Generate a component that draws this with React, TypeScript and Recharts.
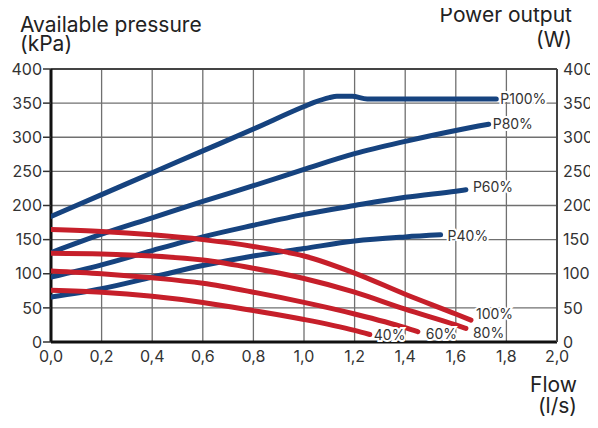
import React from 'react';
import { ComposedChart, Line, XAxis, YAxis, CartesianGrid, ReferenceLine } from 'recharts';

const xTicks = [0, 0.2, 0.4, 0.6, 0.8, 1.0, 1.2, 1.4, 1.6, 1.8, 2.0];
const yTicks = [0, 50, 100, 150, 200, 250, 300, 350, 400];

// Power output (W) curves
const p100Flow = [0, 0.2, 0.4, 0.6, 0.8, 1.0, 1.04, 1.1, 1.13, 1.19, 1.25, 1.76];
const p100Power = [184, 216, 248, 280, 312, 345, 351, 358, 360, 360, 356, 356];
const p80Flow = [0, 0.2, 0.4, 0.6, 0.8, 1.0, 1.2, 1.4, 1.6, 1.73];
const p80Power = [131, 158, 182, 206, 229, 253, 276, 294, 310, 319];
const p60Flow = [0, 0.2, 0.4, 0.6, 0.8, 1.0, 1.2, 1.4, 1.6, 1.64];
const p60Power = [95, 113, 134, 154, 171, 187, 200, 212, 221, 223];
const p40Flow = [0, 0.2, 0.4, 0.6, 0.8, 1.0, 1.2, 1.4, 1.54];
const p40Power = [66, 78, 95, 112, 126, 137, 148, 154, 157];

// Available pressure (kPa) curves
const s100Flow = [0, 0.2, 0.4, 0.6, 0.8, 1.0, 1.2, 1.4, 1.6, 1.66];
const s100Pressure = [165, 162, 157, 150, 140, 126, 101, 70, 41, 32];
const s80Flow = [0, 0.2, 0.4, 0.6, 0.8, 1.0, 1.2, 1.4, 1.6, 1.64];
const s80Pressure = [130, 129, 126, 120, 108, 93, 73, 48, 25, 20];
const s60Flow = [0, 0.2, 0.4, 0.6, 0.8, 1.0, 1.2, 1.4, 1.45];
const s60Pressure = [104, 100, 94, 86, 73, 58, 41, 21, 15];
const s40Flow = [0, 0.2, 0.4, 0.6, 0.8, 1.0, 1.2, 1.26];
const s40Pressure = [76, 73, 67, 58, 46, 33, 17, 11];

const BLUE = '#16437f';
const RED = '#c61f2a';
const FONT = 'Inter, "Noto Sans", sans-serif';

const toPoints = (xs: number[], ys: number[]) => xs.map((x, i) => ({ flow: x, value: ys[i] }));

const makeLabel = (text: string, n: number, dx: number, dy: number) => (props: any) => {
  if (props.index !== n - 1) return <g />;
  return (
    <text
      x={props.x + dx}
      y={props.y + dy}
      dominantBaseline="central"
      textAnchor="start"
      fontSize={14}
      fontFamily={FONT}
      fill="#333"
      stroke="#fff"
      strokeWidth={4}
      paintOrder="stroke"
    >
      {text}
    </text>
  );
};

const fmt = (v: number) => v.toFixed(1).replace('.', ',');

const series = [
  { xs: p100Flow, ys: p100Power, color: BLUE, axis: 'right', label: 'P100%', dx: 4, dy: -1 },
  { xs: p80Flow, ys: p80Power, color: BLUE, axis: 'right', label: 'P80%', dx: 4, dy: -1 },
  { xs: p60Flow, ys: p60Power, color: BLUE, axis: 'right', label: 'P60%', dx: 7, dy: -3 },
  { xs: p40Flow, ys: p40Power, color: BLUE, axis: 'right', label: 'P40%', dx: 7, dy: 1 },
  { xs: s100Flow, ys: s100Pressure, color: RED, axis: 'left', label: '100%', dx: 5, dy: -7 },
  { xs: s80Flow, ys: s80Pressure, color: RED, axis: 'left', label: '80%', dx: 7, dy: 4 },
  { xs: s60Flow, ys: s60Pressure, color: RED, axis: 'left', label: '60%', dx: 8, dy: 2 },
  { xs: s40Flow, ys: s40Pressure, color: RED, axis: 'left', label: '40%', dx: 4, dy: 0 },
];

export default function App() {
  const tickStyle = { fontSize: 16, fontFamily: FONT, fill: '#333' };
  return (
    <div style={{ position: 'relative', width: 590, height: 420 }}>
      <ComposedChart
        width={590}
        height={420}
        margin={{ top: 61, right: 0, bottom: 56, left: 0 }}
      >
        <CartesianGrid stroke="#707070" strokeWidth={1.3} horizontalValues={yTicks} verticalValues={xTicks} yAxisId="left" />
        <XAxis
          type="number"
          dataKey="flow"
          domain={[0, 2]}
          ticks={xTicks}
          tickFormatter={fmt}
          height={30}
          tickSize={0}
          tickMargin={9}
          tick={tickStyle}
          axisLine={false}
          allowDataOverflow
        />
        <YAxis
          yAxisId="left"
          type="number"
          domain={[0, 400]}
          ticks={yTicks}
          width={43}
          tickSize={8}
          tickMargin={1}
          tickLine={{ stroke: '#333', strokeWidth: 1.5 }}
          tick={tickStyle}
          axisLine={false}
        />
        <YAxis
          yAxisId="right"
          orientation="right"
          type="number"
          domain={[0, 400]}
          ticks={yTicks}
          width={41}
          tickSize={0}
          tickMargin={6}
          tick={{ ...tickStyle, textAnchor: 'start' }}
          axisLine={{ stroke: '#444', strokeWidth: 2 }}
        />
        <ReferenceLine yAxisId="left" y={400} stroke="#444" strokeWidth={2} />
        <ReferenceLine yAxisId="left" x={0} stroke="#111" strokeWidth={3} />
        <ReferenceLine yAxisId="left" y={0} stroke="#111" strokeWidth={3} />
        {series.map((s) => (
          <Line
            key={s.label}
            data={toPoints(s.xs, s.ys)}
            dataKey="value"
            yAxisId={s.axis}
            type="monotone"
            stroke={s.color}
            strokeWidth={5}
            strokeLinecap="round"
            dot={false}
            activeDot={false}
            isAnimationActive={false}
            label={makeLabel(s.label, s.xs.length, s.dx, s.dy)}
          />
        ))}
      </ComposedChart>
      <svg width={590} height={420} style={{ position: 'absolute', left: 0, top: 0, pointerEvents: 'none', overflow: 'visible' }}>
        <g fontFamily={FONT} fill="#222" fontSize={21}>
          <text x={12} y={24}>Available pressure</text>
          <text x={12} y={43}>(kPa)</text>
          <text x={564} y={14} textAnchor="end">Power output</text>
          <text x={564} y={39} textAnchor="end">(W)</text>
          <text x={569} y={384} textAnchor="end">Flow</text>
          <text x={569} y={405} textAnchor="end">(l/s)</text>
        </g>
      </svg>
    </div>
  );
}
